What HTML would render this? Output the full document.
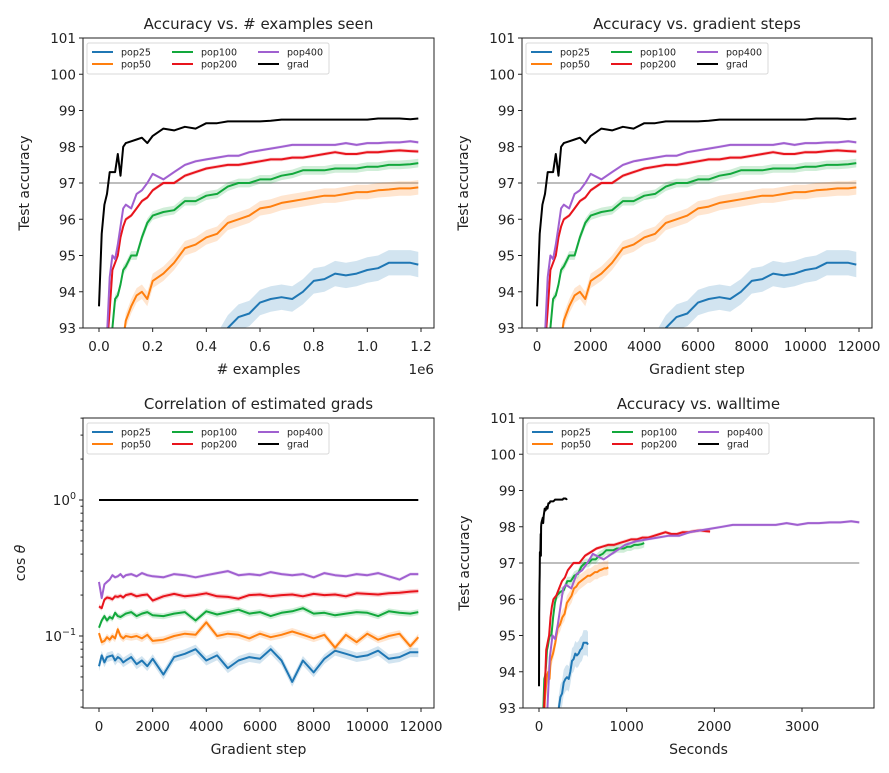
<!DOCTYPE html>
<html><head><meta charset="utf-8"><style>
html,body{margin:0;padding:0;background:#fff;width:889px;height:773px;overflow:hidden}
svg{display:block;position:absolute;left:0;top:0;font-family:"DejaVu Sans","Liberation Sans",sans-serif}
</style></head><body>
<svg id="fig" width="889" height="773" viewBox="0 0 889 773" xmlns="http://www.w3.org/2000/svg"></svg>
<script>
// ---------- data ----------
const steps=[0,100,200,300,400,500,600,700,800,900,1000,1200,1400,1600,1800,2000,2400,2800,3200,3600,4000,4400,4800,5200,5600,6000,6400,6800,7200,7600,8000,8400,8800,9200,9600,10000,10400,10800,11200,11600,11900];
const seriesNames=["pop25","pop50","pop100","pop200","pop400","grad"];
const seriesColors=["#1f77b4","#ff7f0e","#12a83c","#e8141c","#a060d0","#000000"];
const accPop25=[91.5,91.5,91.5,91.5,91.5,91.5,91.5,91.5,91.5,91.5,91.5,91.5,91.5,91.6,91.7,91.8,91.9,92.0,92.1,92.2,92.3,92.5,93.0,93.3,93.4,93.7,93.8,93.85,93.8,94.0,94.3,94.35,94.5,94.45,94.5,94.6,94.65,94.8,94.8,94.8,94.75];
const accPop50=[91.5,91.5,91.5,91.5,91.6,91.8,92.0,92.2,92.4,92.7,93.2,93.6,93.9,94.0,93.8,94.3,94.5,94.8,95.2,95.3,95.5,95.6,95.9,96.0,96.1,96.3,96.35,96.45,96.5,96.55,96.6,96.65,96.65,96.7,96.75,96.75,96.8,96.82,96.85,96.85,96.88];
const accPop100=[91.5,91.6,91.8,92.0,92.4,93.0,93.8,93.9,94.2,94.6,94.7,95.0,95.0,95.5,95.9,96.1,96.2,96.25,96.5,96.5,96.65,96.7,96.9,97.0,97.0,97.1,97.1,97.2,97.25,97.35,97.35,97.35,97.4,97.4,97.4,97.45,97.45,97.5,97.5,97.52,97.55];
const accPop200=[91.5,91.7,92.0,92.5,93.5,94.6,94.8,95.0,95.5,95.8,96.0,96.1,96.3,96.5,96.6,96.8,97.0,97.0,97.2,97.3,97.4,97.45,97.5,97.5,97.55,97.6,97.65,97.65,97.7,97.7,97.75,97.8,97.85,97.8,97.8,97.85,97.85,97.88,97.9,97.88,97.87];
const accPop400=[91.5,91.6,92.0,92.8,94.4,95.0,94.9,95.3,95.8,96.3,96.4,96.3,96.7,96.8,97.0,97.25,97.1,97.3,97.5,97.6,97.65,97.7,97.75,97.75,97.85,97.9,97.95,98.0,98.05,98.05,98.05,98.05,98.05,98.1,98.05,98.1,98.1,98.12,98.12,98.15,98.12];
const accGrad=[93.6,95.6,96.4,96.7,97.3,97.3,97.3,97.8,97.2,98.0,98.1,98.15,98.2,98.25,98.1,98.3,98.5,98.45,98.55,98.5,98.65,98.65,98.7,98.7,98.7,98.7,98.72,98.75,98.75,98.75,98.75,98.75,98.75,98.75,98.75,98.75,98.78,98.78,98.78,98.76,98.78];
const accBand=[0.35,0.2,0.12,0.05,0.04,0.02];
const cosPop25=[0.060,0.072,0.064,0.070,0.071,0.072,0.066,0.070,0.068,0.064,0.066,0.070,0.062,0.066,0.060,0.068,0.052,0.070,0.074,0.080,0.066,0.072,0.058,0.066,0.070,0.068,0.080,0.066,0.046,0.066,0.054,0.068,0.078,0.074,0.070,0.072,0.078,0.068,0.070,0.076,0.076];
const cosPop50=[0.105,0.090,0.092,0.098,0.094,0.100,0.096,0.112,0.100,0.096,0.100,0.098,0.100,0.096,0.102,0.092,0.094,0.100,0.104,0.102,0.126,0.100,0.104,0.102,0.096,0.104,0.098,0.102,0.108,0.102,0.096,0.102,0.082,0.102,0.090,0.104,0.094,0.100,0.104,0.084,0.098];
const cosPop100=[0.115,0.130,0.140,0.130,0.138,0.134,0.148,0.140,0.138,0.142,0.146,0.150,0.140,0.146,0.150,0.142,0.140,0.146,0.150,0.130,0.152,0.144,0.150,0.156,0.146,0.150,0.140,0.148,0.152,0.160,0.146,0.148,0.142,0.146,0.150,0.148,0.140,0.152,0.148,0.146,0.150];
const cosPop200=[0.165,0.160,0.185,0.192,0.190,0.186,0.196,0.194,0.198,0.192,0.200,0.204,0.196,0.200,0.202,0.182,0.196,0.204,0.196,0.200,0.206,0.196,0.194,0.188,0.200,0.202,0.196,0.200,0.202,0.196,0.204,0.200,0.202,0.196,0.206,0.204,0.202,0.206,0.208,0.212,0.214];
const cosPop400=[0.250,0.190,0.240,0.250,0.260,0.280,0.270,0.275,0.285,0.270,0.280,0.285,0.275,0.290,0.280,0.275,0.270,0.285,0.280,0.270,0.280,0.290,0.300,0.280,0.285,0.280,0.295,0.285,0.280,0.285,0.270,0.290,0.280,0.275,0.285,0.280,0.290,0.275,0.260,0.285,0.285];
const cosGrad=[1,1,1,1,1,1,1,1,1,1,1,1,1,1,1,1,1,1,1,1,1,1,1,1,1,1,1,1,1,1,1,1,1,1,1,1,1,1,1,1,1];
const cosBand=[0.08,0.06,0.05,0.04,0.03,0];
const secondsPerStep=[0.047,0.0664,0.1008,0.164,0.307,0.0269];
const threshold=97;
const accTicks=[93,94,95,96,97,98,99,100,101];
const examplesTicks=[0,0.2,0.4,0.6,0.8,1.0,1.2];
const stepTicks=[0,2000,4000,6000,8000,10000,12000];
const secondTicks=[0,1000,2000,3000];
const accSeries=[accPop25,accPop50,accPop100,accPop200,accPop400,accGrad];
const cosSeries=[cosPop25,cosPop50,cosPop100,cosPop200,cosPop400,cosGrad];

// ---------- drawing ----------
const NS="http://www.w3.org/2000/svg";
const fig=document.getElementById('fig');
function mk(tag,attrs,parent){const e=document.createElementNS(NS,tag);for(const k in attrs)e.setAttribute(k,attrs[k]);(parent||fig).appendChild(e);return e;}
function lin(d0,d1,p0,p1){return v=>p0+(v-d0)*(p1-p0)/(d1-d0);}

const panels=[
 {id:'examples',title:'Accuracy vs. # examples seen',box:[83,38,434,328],x:lin(0,1.2e6,99,421),y:lin(93,101,328,38),xt:examplesTicks.map(v=>[v*1e6,v.toFixed(1)]),xl:'# examples',ylab:'Test accuracy',xv:(s,i)=>steps[i]*100,data:accSeries,band:accBand,offset:true},
 {id:'steps',title:'Accuracy vs. gradient steps',box:[522,38,872,328],x:lin(0,12000,537,859),y:lin(93,101,328,38),xt:stepTicks.map(v=>[v,String(v)]),xl:'Gradient step',ylab:'Test accuracy',xv:(s,i)=>steps[i],data:accSeries,band:accBand},
 {id:'cosine',title:'Correlation of estimated grads',box:[83,418,434,708],x:lin(0,12000,99,421),y:v=>500-136*Math.log10(v),xt:stepTicks.map(v=>[v,String(v)]),xl:'Gradient step',ylab:'cos θ',xv:(s,i)=>steps[i],data:cosSeries,band:cosBand,log:true},
 {id:'walltime',title:'Accuracy vs. walltime',box:[523,418,874,708],x:lin(0,3000,539,802),y:lin(93,101,708,418),xt:secondTicks.map(v=>[v,String(v)]),xl:'Seconds',ylab:'Test accuracy',xv:(s,i)=>steps[i]*secondsPerStep[s],data:accSeries,band:accBand,wall:true}
];

panels.forEach((p,pi)=>{
 const [L,T,R,B]=p.box;
 const g=mk('g',{});
 
 
 const cp=mk('clipPath',{id:'clip'+pi},g);mk('rect',{x:L,y:T,width:R-L,height:B-T},cp);
 const plot=mk('g',{'clip-path':'url(#clip'+pi+')'},g);
 if(!p.log){
  let xmax=p.wall?Math.max(...secondsPerStep.map(r=>r*steps[steps.length-1])):p.xv(0,steps.length-1);
  const th=mk('line',{x1:p.x(0),x2:p.x(xmax),y1:p.y(threshold),y2:p.y(threshold),stroke:'#bdbdbd','stroke-width':2},plot);
  
  
 }
 p.data.forEach((arr,s)=>{
  const bw=p.band[s];
  if(bw>0){
   let up=[],dn=[];
   arr.forEach((v,i)=>{const xx=p.x(p.xv(s,i));
    if(p.log){up.push([xx,p.y(v*(1+bw))]);dn.push([xx,p.y(v*(1-bw))]);}
    else{up.push([xx,p.y(v+bw)]);dn.push([xx,p.y(v-bw)]);}});
   const pts=up.concat(dn.reverse()).map(q=>q[0].toFixed(1)+','+q[1].toFixed(1)).join(' ');
   const bd=mk('polygon',{points:pts,fill:seriesColors[s],opacity:0.2,stroke:'none'},plot);
   
   
  }
  const pts=arr.map((v,i)=>p.x(p.xv(s,i)).toFixed(1)+','+p.y(v).toFixed(1)).join(' ');
  const ln=mk('polyline',{points:pts,fill:'none',stroke:seriesColors[s],'stroke-width':2,'stroke-linejoin':'round'},plot);
  
  
 });
 mk('rect',{x:L,y:T,width:R-L,height:B-T,fill:'none',stroke:'#222','stroke-width':1});
 if(p.log){
  [[1,'0'],[0.1,'−1']].forEach(([v,e])=>{const yy=p.y(v);mk('line',{x1:L-4,x2:L,y1:yy,y2:yy,stroke:'#222'},g);
   const t=mk('text',{x:L-7,y:yy+5,'text-anchor':'end','font-size':13.5,fill:'#222'},g);t.textContent='10';
   const sp=mk('tspan',{dy:-6,'font-size':9.5},t);sp.textContent=e;
   });
  [0.03,0.04,0.05,0.06,0.07,0.08,0.09,0.2,0.3,0.4,0.5,0.6,0.7,0.8,0.9,2,3,4].forEach(v=>{const yy=p.y(v);if(yy>=T&&yy<=B)mk('line',{x1:L-2.5,x2:L,y1:yy,y2:yy,stroke:'#222'},g);});
 } else {
  accTicks.forEach(v=>{const yy=p.y(v);mk('line',{x1:L-4,x2:L,y1:yy,y2:yy,stroke:'#222'},g);
   const t=mk('text',{x:L-7,y:yy+5,'text-anchor':'end','font-size':13.5,fill:'#222'},g);t.textContent=String(v);
   });
 }
 p.xt.forEach(([v,lab])=>{const xx=p.x(v);mk('line',{x1:xx,x2:xx,y1:B,y2:B+4,stroke:'#222'},g);
  const t=mk('text',{x:xx,y:B+23,'text-anchor':'middle','font-size':13.5,fill:'#222'},g);t.textContent=lab;
  });
 const cx=(L+R)/2;
 const ti=mk('text',{x:cx,y:T-9,'text-anchor':'middle','font-size':15,fill:'#222'},g);ti.textContent=p.title;
 
 const xl=mk('text',{x:cx,y:B+46,'text-anchor':'middle','font-size':14,fill:'#222'},g);xl.textContent=p.xl;
 
 const yx=L-54,yy=(T+B)/2;
 const yl=mk('text',{x:yx,y:yy,'text-anchor':'middle','font-size':14,fill:'#222',transform:'rotate(-90 '+yx+' '+yy+')'},g);
 if(p.log){yl.textContent='cos ';const th=mk('tspan',{'font-style':'italic'},yl);th.textContent='θ';yl.setAttribute('x',L-58);yl.setAttribute('transform','rotate(-90 '+(L-58)+' '+yy+')');}
 else yl.textContent=p.ylab;
 
 if(p.offset){const o=mk('text',{x:R,y:B+46,'text-anchor':'end','font-size':13.5,fill:'#222'},g);o.textContent='1e6';
  }
 const lg=mk('g',{},g);
 
 
 mk('rect',{x:L+4,y:T+5,width:242,height:31,rx:2,fill:'#fff','fill-opacity':0.85,stroke:'#d8d8d8'},lg);
 const cols=[9,89,175];
 seriesNames.forEach((n,s)=>{const c=Math.floor(s/2),r=s%2;const lx=L+cols[c],ly=T+14+r*12;
  const e=mk('g',{},lg);
  
  
  mk('line',{x1:lx,x2:lx+21,y1:ly,y2:ly,stroke:seriesColors[s],'stroke-width':2},e);
  const t=mk('text',{x:lx+29,y:ly+3.5,'font-size':9.5,fill:'#222'},e);t.textContent=n;});
});
</script>
</body></html>
